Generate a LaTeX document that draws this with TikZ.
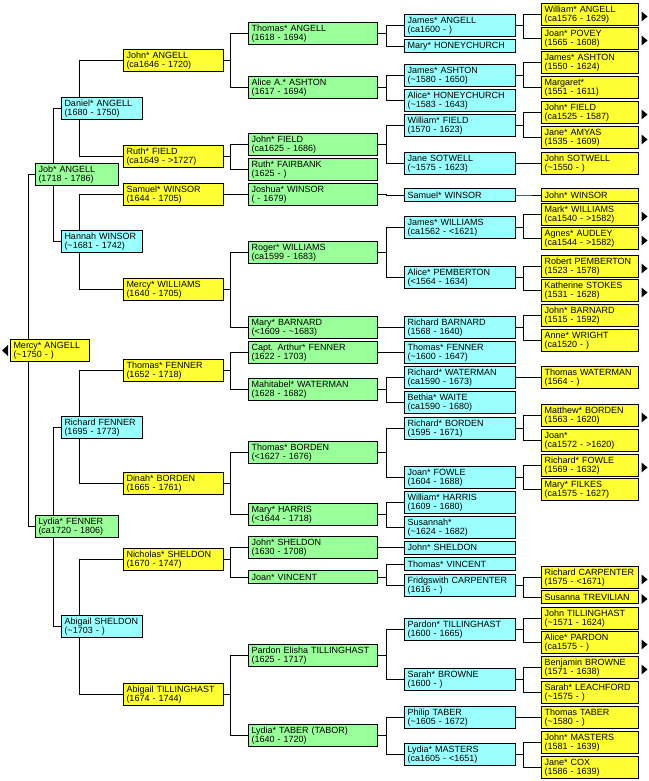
\documentclass[tikz,border=0pt]{standalone}
\usepackage{fontspec}
\setmainfont{Liberation Sans}
\usetikzlibrary{backgrounds}
\definecolor{pyellow}{HTML}{FFFF33}
\definecolor{pgreen}{HTML}{99FF99}
\definecolor{pcyan}{HTML}{99FFFF}

\begin{document}
\begin{tikzpicture}[x=1pt,y=-1pt,line width=1pt,
    person/.style={draw,anchor=north west,align=left,inner xsep=3pt,inner ysep=0pt,
      minimum height=22pt,font=\fontsize{9}{9}\selectfont},
    oneline/.style={minimum height=13pt},
    col0/.style={person,fill=pyellow,text width=73pt},
    col1/.style={person,fill=pgreen,text width=77pt},
    col2/.style={person,fill=pcyan,text width=75pt},
    col3/.style={person,fill=pyellow,text width=94pt},
    col4/.style={person,fill=pgreen,text width=123pt},
    col5/.style={person,fill=pcyan,text width=105pt},
    col6/.style={person,fill=pyellow,text width=91pt}]
  \useasboundingbox (0,0) rectangle (648,781);

  \node[col0] (mercyA) at (10,339) {Mercy* ANGELL\\(\textasciitilde1750 - )};

  \node[col1] (jobA) at (35,163) {Job* ANGELL\\(1718 - 1786)};
  \node[col1] (lydiaF) at (35,515) {Lydia* FENNER\\(ca1720 - 1806)};

  \node[col2] (danielA) at (61,97) {Daniel* ANGELL\\(1680 - 1750)};
  \node[col2] (hannahW) at (61,230) {Hannah WINSOR\\(\textasciitilde1681 - 1742)};
  \node[col2] (richardF) at (61,416) {Richard FENNER\\(1695 - 1773)};
  \node[col2] (abigailS) at (61,615) {Abigail SHELDON\\(\textasciitilde1703 - )};

  \node[col3] (johnA) at (123,49) {John* ANGELL\\(ca1646 - 1720)};
  \node[col3] (ruthF) at (123,145) {Ruth* FIELD\\(ca1649 - >1727)};
  \node[col3] (samuelW) at (123,183) {Samuel* WINSOR\\(1644 - 1705)};
  \node[col3] (mercyW) at (123,278) {Mercy* WILLIAMS\\(1640 - 1705)};
  \node[col3] (thomasF) at (123,359) {Thomas* FENNER\\(1652 - 1718)};
  \node[col3] (dinahB) at (123,472) {Dinah* BORDEN\\(1665 - 1761)};
  \node[col3] (nicholasS) at (123,548) {Nicholas* SHELDON\\(1670 - 1747)};
  \node[col3] (abigailT) at (123,683) {Abigail TILLINGHAST\\(1674 - 1744)};

  \node[col4] (thomasA) at (248,22) {Thomas* ANGELL\\(1618 - 1694)};
  \node[col4] (aliceAs) at (248,76) {Alice A.* ASHTON\\(1617 - 1694)};
  \node[col4] (johnFi) at (248,133) {John* FIELD\\(ca1625 - 1686)};
  \node[col4] (ruthFa) at (248,158) {Ruth* FAIRBANK\\(1625 - )};
  \node[col4] (joshuaW) at (248,183) {Joshua* WINSOR\\( - 1679)};
  \node[col4] (rogerW) at (248,241) {Roger* WILLIAMS\\(ca1599 - 1683)};
  \node[col4] (maryB) at (248,316) {Mary* BARNARD\\(<1609 - \textasciitilde1683)};
  \node[col4] (arthurF) at (248,341) {Capt. Arthur* FENNER\\(1622 - 1703)};
  \node[col4] (mahitabelW) at (248,378) {Mahitabel* WATERMAN\\(1628 - 1682)};
  \node[col4] (thomasB) at (248,441) {Thomas* BORDEN\\(<1627 - 1676)};
  \node[col4] (maryH) at (248,503) {Mary* HARRIS\\(<1644 - 1718)};
  \node[col4] (johnS) at (248,536) {John* SHELDON\\(1630 - 1708)};
  \node[col4,oneline] (joanV) at (248,570) {Joan* VINCENT};
  \node[col4] (pardonE) at (248,644) {Pardon Elisha TILLINGHAST\\(1625 - 1717)};
  \node[col4] (lydiaT) at (248,724) {Lydia* TABER (TABOR)\\(1640 - 1720)};

  \node[col5] (jamesAn) at (404,14) {James* ANGELL\\(ca1600 - )};
  \node[col5,oneline] (maryHo) at (404,39) {Mary* HONEYCHURCH};
  \node[col5] (jamesAs) at (404,64) {James* ASHTON\\(\textasciitilde1580 - 1650)};
  \node[col5] (aliceHo) at (404,89) {Alice* HONEYCHURCH\\(\textasciitilde1583 - 1643)};
  \node[col5] (williamFi) at (404,114) {William* FIELD\\(1570 - 1623)};
  \node[col5] (janeSo) at (404,152) {Jane SOTWELL\\(\textasciitilde1575 - 1623)};
  \node[col5,oneline] (samuelWi) at (404,188) {Samuel* WINSOR};
  \node[col5] (jamesWi) at (404,216) {James* WILLIAMS\\(ca1562 - <1621)};
  \node[col5] (alicePe) at (404,266) {Alice* PEMBERTON\\(<1564 - 1634)};
  \node[col5] (richardBa) at (404,316) {Richard BARNARD\\(1568 - 1640)};
  \node[col5] (thomasFe) at (404,341) {Thomas* FENNER\\(\textasciitilde1600 - 1647)};
  \node[col5] (richardWa) at (404,366) {Richard* WATERMAN\\(ca1590 - 1673)};
  \node[col5] (bethiaWa) at (404,391) {Bethia* WAITE\\(ca1590 - 1680)};
  \node[col5] (richardBo) at (404,417) {Richard* BORDEN\\(1595 - 1671)};
  \node[col5] (joanFo) at (404,466) {Joan* FOWLE\\(1604 - 1688)};
  \node[col5] (williamHa) at (404,491) {William* HARRIS\\(1609 - 1680)};
  \node[col5] (susannah) at (404,516) {Susannah*\\(\textasciitilde1624 - 1682)};
  \node[col5,oneline] (johnSh) at (404,540.5) {John* SHELDON};
  \node[col5,oneline] (thomasVi) at (404,557) {Thomas* VINCENT};
  \node[col5] (fridgswithC) at (404,574) {Fridgswith CARPENTER\\(1616 - )};
  \node[col5] (pardonTi) at (404,618) {Pardon* TILLINGHAST\\(1600 - 1665)};
  \node[col5] (sarahBr) at (404,668) {Sarah* BROWNE\\(1600 - )};
  \node[col5] (philipTa) at (404,706) {Philip TABER\\(\textasciitilde1605 - 1672)};
  \node[col5] (lydiaMa) at (404,743) {Lydia* MASTERS\\(ca1605 - <1651)};

  \node[col6] (williamAng) at (541,3) {William* ANGELL\\(ca1576 - 1629)};
  \node[col6] (joanPo) at (541,27) {Joan* POVEY\\(1565 - 1608)};
  \node[col6] (jamesAsh) at (541,51) {James* ASHTON\\(1550 - 1624)};
  \node[col6] (margaret) at (541,76) {Margaret*\\(1551 - 1611)};
  \node[col6] (johnFie) at (541,101) {John* FIELD\\(ca1525 - 1587)};
  \node[col6] (janeAm) at (541,126) {Jane* AMYAS\\(1535 - 1609)};
  \node[col6] (johnSo) at (541,152) {John SOTWELL\\(\textasciitilde1550 - )};
  \node[col6,oneline] (johnWi) at (541,188) {John* WINSOR};
  \node[col6] (markWi) at (541,203) {Mark* WILLIAMS\\(ca1540 - >1582)};
  \node[col6] (agnesAu) at (541,227) {Agnes* AUDLEY\\(ca1544 - >1582)};
  \node[col6] (robertPe) at (541,255) {Robert PEMBERTON\\(1523 - 1578)};
  \node[col6] (katherineSt) at (541,279) {Katherine STOKES\\(1531 - 1628)};
  \node[col6] (johnBa) at (541,304) {John* BARNARD\\(1515 - 1592)};
  \node[col6] (anneWr) at (541,329) {Anne* WRIGHT\\(ca1520 - )};
  \node[col6] (thomasWa) at (541,366) {Thomas WATERMAN\\(1564 - )};
  \node[col6] (matthewBo) at (541,404) {Matthew* BORDEN\\(1563 - 1620)};
  \node[col6] (joan) at (541,429) {Joan*\\(ca1572 - >1620)};
  \node[col6] (richardFo) at (541,454) {Richard* FOWLE\\(1569 - 1632)};
  \node[col6] (maryFi) at (541,478) {Mary* FILKES\\(ca1575 - 1627)};
  \node[col6] (richardCa) at (541,566) {Richard CARPENTER\\(1575 - <1671)};
  \node[col6,oneline] (susannaTr) at (541,590) {Susanna TREVILIAN};
  \node[col6] (johnTi) at (541,607) {John TILLINGHAST\\(\textasciitilde1571 - 1624)};
  \node[col6] (alicePa) at (541,631) {Alice* PARDON\\(ca1575 - )};
  \node[col6] (benjaminBr) at (541,656) {Benjamin BROWNE\\(1571 - 1638)};
  \node[col6] (sarahLe) at (541,681) {Sarah* LEACHFORD\\(\textasciitilde1575 - )};
  \node[col6] (thomasTa) at (541,706) {Thomas TABER\\(\textasciitilde1580 - )};
  \node[col6] (johnMa) at (541,731) {John* MASTERS\\(1581 - 1639)};
  \node[col6] (janeCo) at (541,756) {Jane* COX\\(1586 - 1639)};

  \begin{scope}[on background layer]
    \foreach \c/\p in {mercyA/jobA,mercyA/lydiaF,jobA/danielA,jobA/hannahW,
        lydiaF/richardF,lydiaF/abigailS,danielA/johnA,danielA/ruthF,
        hannahW/samuelW,hannahW/mercyW,richardF/thomasF,richardF/dinahB,
        abigailS/nicholasS,abigailS/abigailT}
      \draw ([xshift=18pt]\c.west) |- (\p.west);
    \foreach \c/\p in {johnA/thomasA,johnA/aliceAs,ruthF/johnFi,ruthF/ruthFa,
        samuelW/joshuaW,mercyW/rogerW,mercyW/maryB,thomasF/arthurF,
        thomasF/mahitabelW,dinahB/thomasB,dinahB/maryH,nicholasS/johnS,
        nicholasS/joanV,abigailT/pardonE,abigailT/lydiaT}
      \draw (\c.east) -- ++(6,0) |- (\p.west);
    \foreach \c/\p in {thomasA/jamesAn,thomasA/maryHo,aliceAs/jamesAs,
        aliceAs/aliceHo,johnFi/williamFi,johnFi/janeSo,joshuaW/samuelWi,
        rogerW/jamesWi,rogerW/alicePe,maryB/richardBa,arthurF/thomasFe,
        mahitabelW/richardWa,mahitabelW/bethiaWa,thomasB/richardBo,
        thomasB/joanFo,maryH/williamHa,maryH/susannah,johnS/johnSh,
        joanV/thomasVi,joanV/fridgswithC,pardonE/pardonTi,pardonE/sarahBr,
        lydiaT/philipTa,lydiaT/lydiaMa}
      \draw (\c.east) -- ++(8,0) |- (\p.west);
    \foreach \c/\p in {jamesAn/williamAng,jamesAn/joanPo,jamesAs/jamesAsh,
        jamesAs/margaret,williamFi/johnFie,williamFi/janeAm,janeSo/johnSo,
        samuelWi/johnWi,jamesWi/markWi,jamesWi/agnesAu,alicePe/robertPe,
        alicePe/katherineSt,richardBa/johnBa,richardBa/anneWr,
        richardWa/thomasWa,richardBo/matthewBo,richardBo/joan,
        joanFo/richardFo,joanFo/maryFi,fridgswithC/richardCa,
        fridgswithC/susannaTr,pardonTi/johnTi,pardonTi/alicePa,
        sarahBr/benjaminBr,sarahBr/sarahLe,philipTa/thomasTa,
        lydiaMa/johnMa,lydiaMa/janeCo}
      \draw (\c.east) -- ++(7,0) |- (\p.west);
  \end{scope}

  \fill ([shift={(-2,-5.5)}]mercyA.west) -- ++(0,11) -- ++(-6,-5.5) -- cycle;
  \foreach \n in {williamAng,joanPo,johnFie,janeAm,markWi,agnesAu,robertPe,
      katherineSt,matthewBo,richardFo,richardCa,susannaTr,alicePa,benjaminBr}
    \fill ([shift={(2.5,-3)}]\n.east) -- ++(6,5) -- ++(-6,5) -- cycle;
\end{tikzpicture}
\end{document}
